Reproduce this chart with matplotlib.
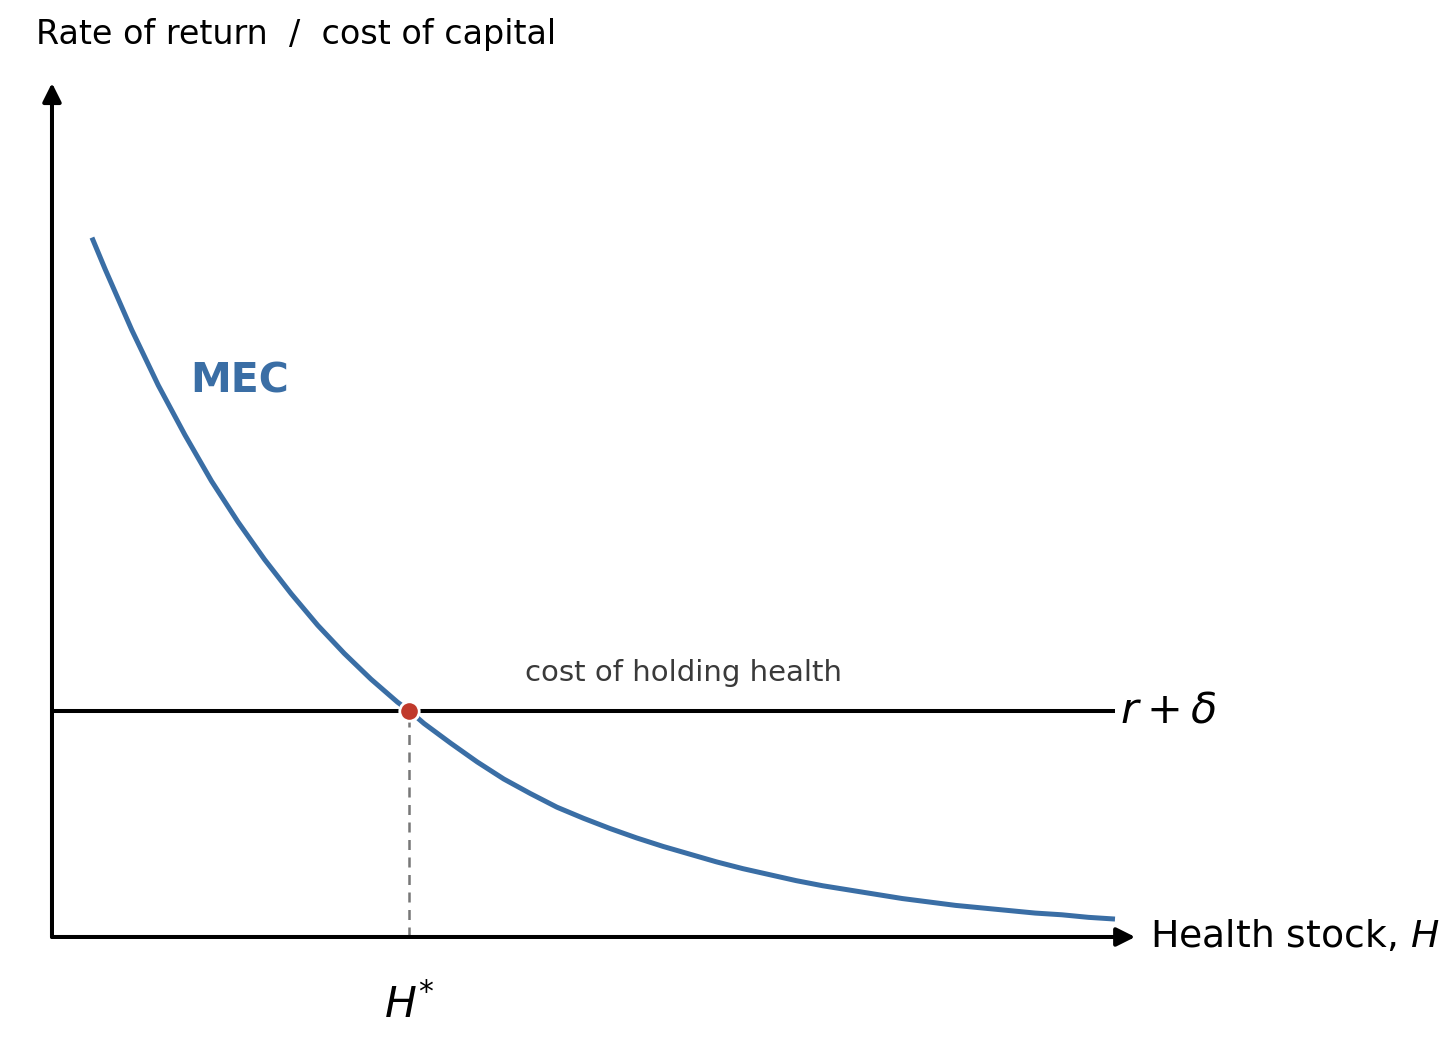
import matplotlib
matplotlib.use("Agg")
import matplotlib.pyplot as plt

# MEC curve (health stock H, rate of return)
H_vals = [0.376, 0.5, 0.75, 1.0, 1.25, 1.5, 1.75, 2.0, 2.25, 2.5, 2.75, 3.0,
          3.25, 3.36, 3.5, 3.75, 4.0, 4.25, 4.5, 4.75, 5.0, 5.25, 5.5, 5.75,
          6.0, 6.25, 6.5, 6.75, 7.0, 7.25, 7.5, 7.75, 8.0, 8.25, 8.5, 8.75,
          9.0, 9.25, 9.5, 9.75, 10.0]
MEC_vals = [8.19, 7.82, 7.11, 6.46, 5.88, 5.34, 4.86, 4.42, 4.02, 3.65, 3.32,
            3.02, 2.75, 2.65, 2.50, 2.27, 2.05, 1.85, 1.68, 1.52, 1.39, 1.27,
            1.16, 1.06, 0.97, 0.88, 0.80, 0.73, 0.66, 0.60, 0.55, 0.50, 0.45,
            0.41, 0.37, 0.34, 0.31, 0.28, 0.26, 0.23, 0.21]
cost_level = 2.65      # r + delta
H_star = 3.36
H_max = 10.0
x_axis_end = 10.19
y_axis_end = 10.0

BLUE = "#3a6ea5"
RED = "#c0392b"

fig = plt.figure(figsize=(14.56, 10.41), dpi=100)
ax = fig.add_axes([0, 0, 1, 1])
ax.set_xlim(-0.489, 13.208)
ax.set_ylim(-1.218, 10.972)
ax.axis("off")

# axes with arrows
ax.annotate("", xy=(x_axis_end, 0), xytext=(0, 0),
            arrowprops=dict(arrowstyle="-|>", lw=2.9, color="black",
                            mutation_scale=28, shrinkA=0, shrinkB=0))
ax.annotate("", xy=(0, y_axis_end), xytext=(0, 0),
            arrowprops=dict(arrowstyle="-|>", lw=2.9, color="black",
                            mutation_scale=28, shrinkA=0, shrinkB=0))

# cost of capital line
ax.plot([0, H_max], [cost_level, cost_level], color="black", lw=2.9,
        solid_capstyle="butt", zorder=2)

# MEC curve
ax.plot(H_vals, MEC_vals, color=BLUE, lw=3.6, solid_capstyle="butt",
        solid_joinstyle="round", zorder=3)

# dashed drop line
ax.plot([H_star, H_star], [0, cost_level], color="#777777", lw=1.8,
        ls=(0, (4, 3)), zorder=1)

# equilibrium point
ax.plot([H_star], [cost_level], "o", color=RED, markersize=14,
        markeredgecolor="white", markeredgewidth=2, zorder=4)

# labels
ax.text(-0.155, 10.57, "Rate of return  /  cost of capital", fontsize=24,
        ha="left", va="center", color="black")
ax.text(1.3, 6.50, "MEC", fontsize=29.5, fontweight="bold", color=BLUE,
        ha="left", va="center")
ax.text(4.45, 3.09, "cost of holding health", fontsize=21, color="#3a3a3a",
        ha="left", va="center")
ax.text(10.05, cost_level, r"$r + \delta$", fontsize=31, ha="left",
        va="center", color="black")
ax.text(10.33, 0.0, r"Health stock, $H$", fontsize=27.2, ha="left",
        va="center", color="black")
ax.text(H_star, -0.80, r"$H^{*}$", fontsize=30.5, ha="center", va="center",
        color="black")

fig.savefig("out.png", dpi=100)
